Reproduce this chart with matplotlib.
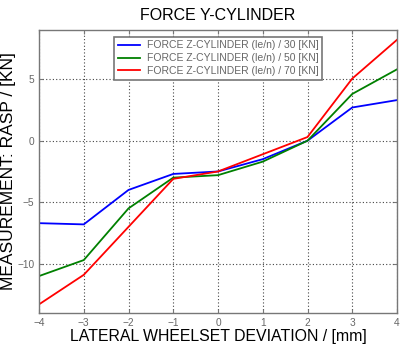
import matplotlib
matplotlib.use("Agg")
import matplotlib.pyplot as plt

plt.rcParams["font.family"] = ["Liberation Sans", "DejaVu Sans"]

# lateral deviation [mm] and measured force per Z-cylinder load
deviation = [-4, -3, -2, -1, 0, 1, 2, 3, 4]
force_30 = [-6.7, -6.8, -4.0, -2.7, -2.5, -1.5, 0.0, 2.7, 3.3]
force_50 = [-11.0, -9.7, -5.5, -3.0, -2.8, -1.7, 0.0, 3.8, 5.8]
force_70 = [-13.3, -10.9, -7.0, -3.1, -2.5, -1.1, 0.3, 5.05, 8.2]
series_labels = [
    "FORCE Z-CYLINDER (le/n) / 30 [KN]",
    "FORCE Z-CYLINDER (le/n) / 50 [KN]",
    "FORCE Z-CYLINDER (le/n) / 70 [KN]",
]
x_ticks = [-4, -3, -2, -1, 0, 1, 2, 3, 4]
y_ticks = [-10, -5, 0, 5]

fig = plt.figure(figsize=(4.0, 3.46), dpi=100)
ax = fig.add_axes([0.0975, 0.0954, 0.895, 0.818])

for vals, col, lab in zip([force_30, force_50, force_70],
                          ["#0000ff", "#008000", "#ff0000"], series_labels):
    ax.plot(deviation, vals, color=col, lw=1.3, label=lab)

ax.set_xlim(-4, 4)
ax.set_ylim(-14, 9)
ax.set_xticks(x_ticks)
ax.set_yticks(y_ticks)
ax.grid(True, ls=(0, (1, 2)), color="#444444", lw=0.8)
ax.tick_params(direction="in", top=True, right=True, length=3,
               labelsize=7.3, labelcolor="#666666", color="#777777")
for sp in ax.spines.values():
    sp.set_color("#777777")
    sp.set_linewidth(1.0)

ax.set_title("FORCE Y-CYLINDER", fontsize=11.5, pad=7)
ax.set_xlabel("LATERAL WHEELSET DEVIATION / [mm]", fontsize=11.4, labelpad=1)
ax.set_ylabel("MEASUREMENT: RASP / [KN]", fontsize=12.5, labelpad=0.5)

leg = ax.legend(loc="upper center", bbox_to_anchor=(0.5, 0.995), fontsize=7.5,
                frameon=True, fancybox=False, framealpha=1, handlelength=2.2,
                borderpad=0.35, labelspacing=0.28, handletextpad=0.6)
leg.get_frame().set_edgecolor("#777777")
leg.get_frame().set_linewidth(1.2)
for t in leg.get_texts():
    t.set_color("#666666")

fig.savefig("out.png", dpi=100)
